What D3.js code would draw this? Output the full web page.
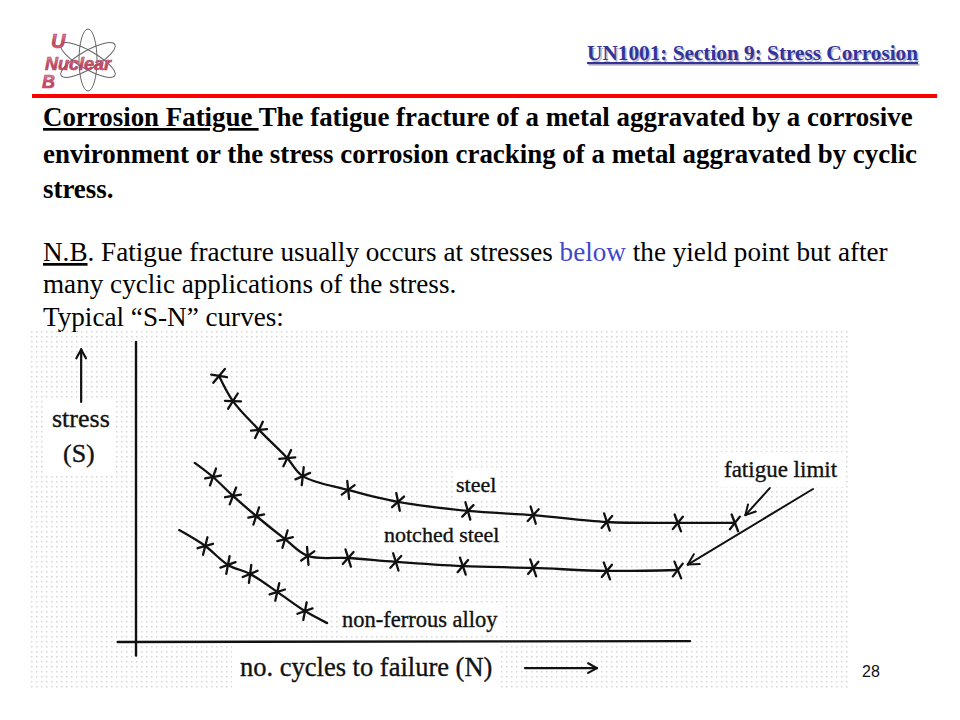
<!DOCTYPE html>
<html>
<head>
<meta charset="utf-8">
<script src="https://cdn.jsdelivr.net/npm/d3@7"></script>
<style>
  body { margin: 0; background: #fff; }
  svg { display: block; }
</style>
</head>
<body>
<svg id="chart" width="960" height="720"></svg>
<script>
// S-N readings, N and S in arbitrary units (0-100 along each axis)
const steelN = [15.0, 17.5, 22.2, 27.3, 30.1, 38.3, 47.3, 59.9, 71.7, 85.0, 97.8, 108.1];
const steelS = [88.7, 80.3, 70.7, 61.3, 55.3, 50.7, 46.7, 43.7, 42.3, 40.0, 39.7, 39.7];
const notchedN = [13.9, 17.5, 21.7, 26.9, 31.0, 38.3, 46.9, 59.0, 71.7, 85.0, 97.8];
const notchedS = [55.0, 48.7, 42.0, 34.3, 28.7, 28.0, 26.7, 25.3, 24.7, 23.7, 24.0];
const alloyN = [12.5, 16.6, 20.6, 25.5, 30.5];
const alloyS = [32.0, 25.7, 22.7, 16.7, 10.3];
// where the pen stroke runs on past the first / last cross
const notchedLead = [10.6, 59.7];
const alloyLead = [7.8, 37.3];
const alloyTail = [34.5, 6.3];

const seriesNames = ["steel", "notched steel", "non-ferrous alloy"];

const svg = d3.select("#chart");
const SERIF = "'Liberation Serif', 'Times New Roman', serif";

const x = d3.scaleLinear().domain([0, 100]).range([136, 690]);
const y = d3.scaleLinear().domain([0, 100]).range([642, 342]);

function fitLine(sel, width) {
  const len = sel.node().getComputedTextLength();
  const fs = +sel.attr("font-size");
  sel.attr("font-size", fs * width / len);
}

// ---------- header ----------
const defs = svg.append("defs");
const grad = defs.append("linearGradient").attr("id", "logoGrad")
  .attr("x1", 0).attr("y1", 0).attr("x2", 0).attr("y2", 1);
grad.append("stop").attr("offset", "0%").attr("stop-color", "#e8a0b0");
grad.append("stop").attr("offset", "60%").attr("stop-color", "#c0405a");
grad.append("stop").attr("offset", "100%").attr("stop-color", "#d87890");

const logo = svg.append("g");
[30, 90, 150].forEach(a => {
  logo.append("ellipse")
    .attr("cx", 88).attr("cy", 60).attr("rx", 31).attr("ry", 9)
    .attr("transform", `rotate(${a},88,60)`)
    .attr("fill", "none").attr("stroke", "#666").attr("stroke-width", 1);
});
[["U", 51, 48, 20], ["Nuclear", 45, 70, 18], ["B", 42, 88, 18]].forEach(([t, lx, ly, fs]) => {
  logo.append("text").attr("x", lx).attr("y", ly).text(t)
    .attr("font-family", "'Liberation Sans', Arial, sans-serif")
    .attr("font-style", "italic").attr("font-weight", "bold")
    .attr("font-size", fs)
    .attr("fill", "url(#logoGrad)").attr("stroke", "#b04060").attr("stroke-width", 0.6);
});

const title = "UN1001: Section 9: Stress Corrosion";
const titleShadow = svg.append("text").attr("x", 919.5).attr("y", 61.5).attr("text-anchor", "end")
  .attr("font-family", SERIF).attr("font-weight", "bold").attr("font-size", 17.5)
  .attr("fill", "#b8b8c8").attr("text-decoration", "underline").text(title);
const titleText = svg.append("text").attr("x", 918).attr("y", 60).attr("text-anchor", "end")
  .attr("font-family", SERIF).attr("font-weight", "bold").attr("font-size", 17.5)
  .attr("fill", "#33339a").attr("text-decoration", "underline").text(title);
fitLine(titleText, 331);
titleShadow.attr("font-size", titleText.attr("font-size"));

svg.append("line").attr("x1", 32).attr("x2", 937).attr("y1", 96).attr("y2", 96)
  .attr("stroke", "#f00").attr("stroke-width", 4);

// ---------- body text ----------
const bodyBold = [
  [["Corrosion Fatigue ", true], [" The fatigue fracture of a metal aggravated by a corrosive", false]],
  [["environment or the stress corrosion cracking of a metal aggravated by cyclic", false]],
  [["stress.", false]]
];
const boldBase = [126, 163, 198];
const boldLines = bodyBold.map((parts, i) => {
  const t = svg.append("text").attr("x", 43).attr("y", boldBase[i])
    .attr("font-family", SERIF).attr("font-weight", "bold").attr("font-size", 22)
    .attr("fill", "#000");
  parts.forEach(([s, u]) => t.append("tspan").text(s)
    .attr("text-decoration", u ? "underline" : null));
  return t;
});
fitLine(boldLines[0], 870);
boldLines.forEach(t => t.attr("font-size", boldLines[0].attr("font-size")));

const nb = svg.append("text").attr("x", 43).attr("y", 261)
  .attr("font-family", SERIF).attr("font-size", 22).attr("fill", "#000");
nb.append("tspan").text("N.B").attr("text-decoration", "underline");
nb.append("tspan").text(".  Fatigue fracture usually occurs at stresses ");
nb.append("tspan").text("below").attr("fill", "#3f48c8");
nb.append("tspan").text("  the yield point but after");
fitLine(nb, 845);
const regSize = nb.attr("font-size");
svg.append("text").attr("x", 43).attr("y", 293)
  .attr("font-family", SERIF).attr("font-size", regSize)
  .text("many cyclic applications of the stress.");
svg.append("text").attr("x", 43).attr("y", 326)
  .attr("font-family", SERIF).attr("font-size", regSize)
  .text("Typical \u201cS-N\u201d curves:");

// ---------- dotted drawing sheet ----------
const pat = defs.append("pattern").attr("id", "dots")
  .attr("patternUnits", "userSpaceOnUse").attr("width", 5).attr("height", 5);
pat.append("rect").attr("x", 1).attr("y", 1).attr("width", 1.5).attr("height", 1.5)
  .attr("fill", "#d6d6d6");
svg.append("rect").attr("x", 30).attr("y", 331).attr("width", 818).attr("height", 360)
  .attr("fill", "url(#dots)");

const boxLayer = svg.append("g");
const plot = svg.append("g");
const labelLayer = svg.append("g");

function whiteBox(nodes, pad, extra = {}) {
  const boxes = nodes.map(n => n.getBBox());
  const x0 = d3.min(boxes, b => b.x) - pad, x1 = d3.max(boxes, b => b.x + b.width) + pad;
  const y0 = d3.min(boxes, b => b.y) - pad, y1 = extra.bottom || d3.max(boxes, b => b.y + b.height) + pad;
  boxLayer.append("rect").attr("x", x0).attr("y", y0)
    .attr("width", x1 - x0).attr("height", y1 - y0).attr("fill", "#fff");
}

function label(text, lx, ly, fs) {
  return labelLayer.append("text").attr("x", lx).attr("y", ly)
    .attr("font-family", SERIF).attr("font-size", fs)
    .attr("fill", "#111").attr("stroke", "#111").attr("stroke-width", 0.35)
    .text(text);
}

// ---------- axes ----------
const pen = { stroke: "#111", "stroke-width": 2.4, "stroke-linecap": "round", fill: "none" };
function applyPen(s, w) {
  Object.entries(pen).forEach(([k, v]) => s.attr(k, v));
  if (w) s.attr("stroke-width", w);
  return s;
}
applyPen(plot.append("line")
  .attr("x1", x(0)).attr("x2", x(0)).attr("y1", y(100)).attr("y2", y(-4.5)));
applyPen(plot.append("line")
  .attr("x1", x(-3.3)).attr("x2", x(100)).attr("y1", y(0)).attr("y2", y(0.3)));

// ---------- curves ----------
const toPts = (N, S) => N.map((n, i) => [n, S[i]]);
const series = [
  { name: seriesNames[0], marks: toPts(steelN, steelS), lead: null, tail: null },
  { name: seriesNames[1], marks: toPts(notchedN, notchedS), lead: notchedLead, tail: null },
  { name: seriesNames[2], marks: toPts(alloyN, alloyS), lead: alloyLead, tail: alloyTail }
];

const line = d3.line().x(d => x(d[0])).y(d => y(d[1])).curve(d3.curveCatmullRom.alpha(0.5));

series.forEach(s => {
  const path = [].concat(s.lead ? [s.lead] : [], s.marks, s.tail ? [s.tail] : []);
  applyPen(plot.append("path").attr("d", line(path)), 2.3);

  const px = path.map(d => [x(d[0]), y(d[1])]);
  const off = s.lead ? 1 : 0;
  s.marks.forEach((d, i) => {
    const k = i + off;
    const a = px[Math.max(k - 1, 0)], b = px[Math.min(k + 1, px.length - 1)];
    const ang = Math.atan2(b[1] - a[1], b[0] - a[0]);
    const cx = x(d[0]), cy = y(d[1]);
    [[ang + 1.2, 9], [ang - 0.9, 8]].forEach(([t, h]) => {
      applyPen(plot.append("line")
        .attr("x1", cx - Math.cos(t) * h).attr("y1", cy - Math.sin(t) * h)
        .attr("x2", cx + Math.cos(t) * h).attr("y2", cy + Math.sin(t) * h), 2.3);
    });
  });
});

// ---------- hand arrows ----------
function arrow(g, p0, p1, head, w) {
  const [x0, y0] = [x(p0[0]), y(p0[1])], [x1, y1] = [x(p1[0]), y(p1[1])];
  applyPen(g.append("line").attr("x1", x0).attr("y1", y0).attr("x2", x1).attr("y2", y1), w);
  const a = Math.atan2(y0 - y1, x0 - x1);
  [0.5, -0.5].forEach(da => {
    applyPen(g.append("line").attr("x1", x1).attr("y1", y1)
      .attr("x2", x1 + Math.cos(a + da) * head).attr("y2", y1 + Math.sin(a + da) * head), w);
  });
}

// stress label & arrow
const st1 = label("stress", 52, 427, 26);
const st2 = label("(S)", 63, 462, 26);
whiteBox([st1.node(), st2.node()], 6);
arrow(plot, [-9.9, 80], [-9.9, 97.5], 10, 2.2);

// x label & arrow
const xl = label("no. cycles to failure (N)", 240, 676, 26.5);
whiteBox([xl.node()], 8, { bottom: 691 });
arrow(plot, [70.2, -8.7], [83.2, -8.7], 10, 2.2);

// series labels
const lSteel = label(seriesNames[0], 456, 492, 22);
const lNotched = label(seriesNames[1], 384, 542, 22);
const lAlloy = label(seriesNames[2], 342, 627, 22.5);
const lLimit = label("fatigue limit", 724, 477, 23);
whiteBox([lSteel.node()], 3);
whiteBox([lNotched.node()], 3);
whiteBox([lAlloy.node()], 4);
whiteBox([lLimit.node()], 5);

// fatigue limit pointers
arrow(plot, [114.4, 51.3], [110.0, 42.3], 11, 2);
arrow(plot, [122.2, 51.0], [99.6, 25.8], 12, 2);

// page number
svg.append("text").attr("x", 862).attr("y", 677)
  .attr("font-family", "'Liberation Sans', Arial, sans-serif").attr("font-size", 16)
  .attr("fill", "#111").text("28");
</script>
</body>
</html>
